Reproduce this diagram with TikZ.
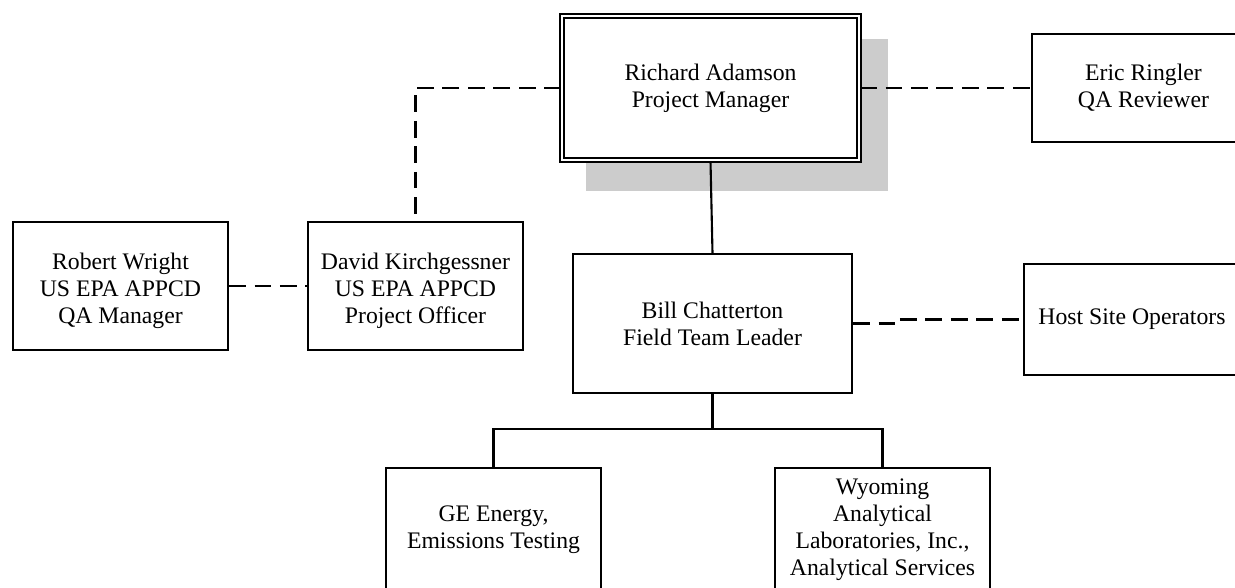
\documentclass[tikz,border=0pt]{standalone}
\usepackage{fontspec}
\setmainfont{Liberation Serif}
\usepackage{tikz}
\definecolor{shadowgray}{HTML}{CCCCCC}

\begin{document}
\begin{tikzpicture}[x=0.02cm,y=-0.02cm]
\tikzstyle{every node}=[draw, fill=white, line width=1.2pt, align=center, inner sep=2pt, font=\fontsize{13.5}{15.3}\selectfont]
\tikzstyle{dashline}=[line width=1.2pt, dash pattern=on 9.5pt off 5pt]
\useasboundingbox (0,0) rectangle (1235,588);
\clip (0,0) rectangle (1235,588);
\fill[shadowgray] (586,39) rectangle (888,191);
\draw (710.5,88) node (ra) [minimum width=5.94cm, minimum height=2.88cm, double, double distance=1.5pt] {Richard Adamson\\Project Manager};
\draw (1143.5,88) node (er) [minimum width=4.46cm, minimum height=2.16cm] {Eric Ringler\\QA Reviewer};
\draw (120.5,286) node (rw) [minimum width=4.3cm, minimum height=2.56cm] {\rule{0pt}{15pt}Robert Wright\\US EPA APPCD\\QA Manager};
\draw (415.5,286) node (dk) [minimum width=4.3cm, minimum height=2.56cm] {\rule{0pt}{15pt}David Kirchgessner\\US EPA APPCD\\Project Officer};
\draw (712.5,323.5) node (bc) [minimum width=5.58cm, minimum height=2.78cm] {Bill Chatterton\\Field Team Leader};
\draw (1132,319.5) node (hs) [minimum width=4.32cm, minimum height=2.22cm] {Host Site Operators};
\draw (493.5,530) node (ge) [minimum width=4.3cm, minimum height=2.48cm] {GE Energy,\\Emissions Testing};
\draw (882.5,530) node (wy) [minimum width=4.3cm, minimum height=2.48cm] {Wyoming\\Analytical\\Laboratories, Inc.,\\Analytical Services};
\draw[dashline] (ra.west) -| (dk.north);
\draw[dashline] (ra.east) -- (er.west);
\draw[dashline] (rw.east) -- (dk.west);
\draw[dashline] (bc.east) -- ++(43,0) |- (hs.west);
\draw[line width=1.2pt] (ra.south) -- (bc.north);
\draw[line width=1.2pt] (bc.south) -- ++(0,35) -| (ge.north);
\draw[line width=1.2pt] (bc.south) -- ++(0,35) -| (wy.north);
\end{tikzpicture}
\end{document}
